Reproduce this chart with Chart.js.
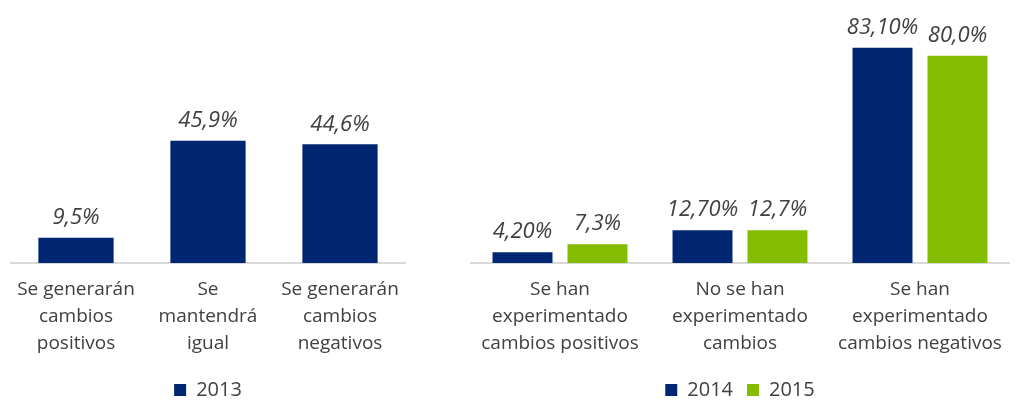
<!DOCTYPE html>
<html>
<head>
<meta charset="utf-8">
<script src="https://cdn.jsdelivr.net/npm/chart.js@4.4.0/dist/chart.umd.min.js"></script>
<style>
    html, body { margin: 0; padding: 0; background: #fff; }
    .wrap { position: absolute; top: 0; height: 400px; }
    #leftWrap { left: 10px; width: 396px; }
    #rightWrap { left: 470px; width: 540px; }
</style>
</head>
<body>
<div class="wrap" id="leftWrap"><canvas id="leftChart"></canvas></div>
<div class="wrap" id="rightWrap"><canvas id="rightChart"></canvas></div>
<script>
// Left panel data (2013)
const leftCategories = [
    ['Se generarán', 'cambios', 'positivos'],
    ['Se', 'mantendrá', 'igual'],
    ['Se generarán', 'cambios', 'negativos']
];
const values2013 = [9.5, 45.9, 44.6];

// Right panel data (2014 vs 2015)
const rightCategories = [
    ['Se han', 'experimentado', 'cambios positivos'],
    ['No se han', 'experimentado', 'cambios'],
    ['Se han', 'experimentado', 'cambios negativos']
];
const values2014 = [4.2, 12.7, 83.1];
const values2015 = [7.3, 12.7, 80.0];

const NAVY = '#002672';
const GREEN = '#84bd00';
const TEXT = '#404040';
const FONT = "'Open Sans', 'Noto Sans', sans-serif";

// draws the italic percentage above each bar
const valueLabels = {
    id: 'valueLabels',
    afterDatasetsDraw(chart) {
        const ctx = chart.ctx;
        ctx.save();
        ctx.font = 'italic 22px ' + FONT;
        ctx.fillStyle = TEXT;
        ctx.textAlign = 'center';
        ctx.textBaseline = 'bottom';
        chart.data.datasets.forEach((ds, i) => {
            const meta = chart.getDatasetMeta(i);
            meta.data.forEach((bar, j) => {
                const txt = ds.data[j].toFixed(ds.decimals).replace('.', ',') + '%';
                ctx.fillText(txt, bar.x, bar.y - 9);
            });
        });
        ctx.restore();
    }
};

function makeOptions(yMax, topPad, catPct, barPct) {
    return {
        responsive: true,
        maintainAspectRatio: false,
        animation: false,
        layout: { padding: { top: topPad, left: 0, right: 0, bottom: -10 } },
        datasets: { bar: { categoryPercentage: catPct, barPercentage: barPct } },
        plugins: {
            legend: {
                position: 'bottom',
                labels: {
                    boxWidth: 12,
                    boxHeight: 12,
                    padding: 14,
                    color: TEXT,
                    font: { family: FONT, size: 20 }
                }
            },
            tooltip: { enabled: false }
        },
        scales: {
            x: {
                grid: { display: false },
                border: { display: true, color: '#d9d9d9', width: 2 },
                afterFit(scale) { scale.height += 4; },
                ticks: {
                    color: TEXT,
                    padding: 5,
                    maxRotation: 0,
                    autoSkip: false,
                    font: { family: FONT, size: 19, lineHeight: 1.42 }
                }
            },
            y: {
                display: false,
                min: 0,
                max: yMax
            }
        }
    };
}

new Chart(document.getElementById('leftChart'), {
    type: 'bar',
    data: {
        labels: leftCategories,
        datasets: [{
            label: '2013',
            data: values2013,
            decimals: 1,
            backgroundColor: NAVY
        }]
    },
    options: makeOptions(98, 2, 1.0, 0.57),
    plugins: [valueLabels]
});

new Chart(document.getElementById('rightChart'), {
    type: 'bar',
    data: {
        labels: rightCategories,
        datasets: [{
            label: '2014',
            data: values2014,
            decimals: 2,
            backgroundColor: NAVY
        }, {
            label: '2015',
            data: values2015,
            decimals: 1,
            backgroundColor: GREEN
        }]
    },
    options: makeOptions(100, 4, 0.833, 0.8),
    plugins: [valueLabels]
});
</script>
</body>
</html>
